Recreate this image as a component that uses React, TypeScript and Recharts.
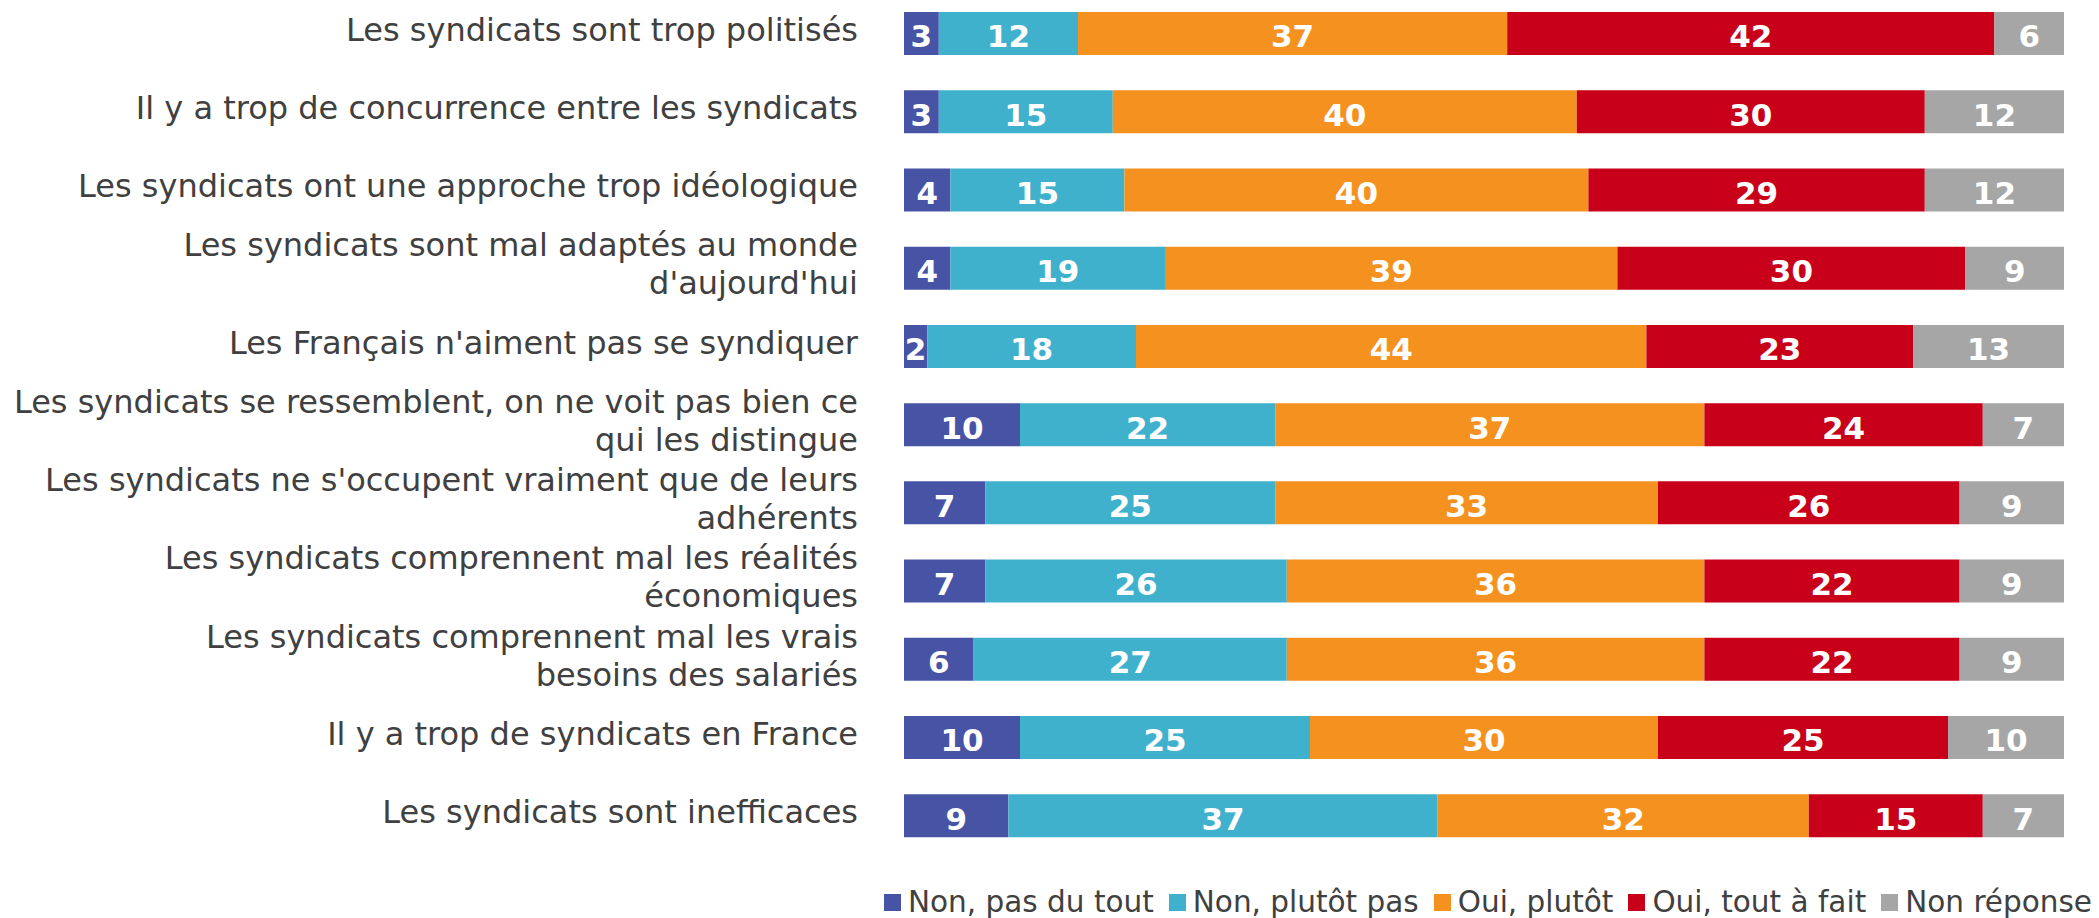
import React from 'react';
import { BarChart, Bar, XAxis, YAxis, Legend, LabelList } from 'recharts';

const categories = [
  'Les syndicats sont trop politisés',
  'Il y a trop de concurrence entre les syndicats',
  'Les syndicats ont une approche trop idéologique',
  "Les syndicats sont mal adaptés au monde\nd'aujourd'hui",
  "Les Français n'aiment pas se syndiquer",
  'Les syndicats se ressemblent, on ne voit pas bien ce\nqui les distingue',
  "Les syndicats ne s'occupent vraiment que de leurs\nadhérents",
  'Les syndicats comprennent mal les réalités\néconomiques',
  'Les syndicats comprennent mal les vrais\nbesoins des salariés',
  'Il y a trop de syndicats en France',
  'Les syndicats sont inefficaces',
];

const nonPasDuTout = [3, 3, 4, 4, 2, 10, 7, 7, 6, 10, 9];
const nonPlutotPas = [12, 15, 15, 18.5, 18, 22, 25, 26, 27, 25, 37];
const ouiPlutot = [37, 40, 40, 39, 44, 37, 33, 36, 36, 30, 32];
const ouiToutAFait = [42, 30, 29, 30, 23, 24, 26, 22, 22, 25, 15];
const nonReponse = [6, 12, 12, 8.5, 13, 7, 9, 9, 9, 10, 7];

const seriesNames = ['Non, pas du tout', 'Non, plutôt pas', 'Oui, plutôt', 'Oui, tout à fait', 'Non réponse'];
const seriesColors = ['#4753A5', '#40B1CD', '#F5921F', '#C8001A', '#A6A6A6'];
const seriesValues = [nonPasDuTout, nonPlutotPas, ouiPlutot, ouiToutAFait, nonReponse];

const FONT = '"DejaVu Sans", Verdana, sans-serif';

const data = categories.map((name, i) => {
  const row: any = { name };
  seriesValues.forEach((vals, s) => {
    row['s' + s] = vals[i];
  });
  return row;
});

function CategoryTick(props: any) {
  const { x, y, payload } = props;
  const lines = String(payload.value).split('\n');
  return (
    <text x={x} y={y} textAnchor="end" fontSize={32} fill="#404040" fontFamily={FONT}>
      {lines.map((line, i) => (
        <tspan key={i} x={x} dy={i === 0 ? 7.7 - (lines.length - 1) * 19 : 38}>
          {line}
        </tspan>
      ))}
    </text>
  );
}

function BarValue(props: any) {
  const { x, y, width, height, value } = props;
  return (
    <text
      x={x + width / 2}
      y={y + height / 2}
      dy="0.45em"
      textAnchor="middle"
      fill="#ffffff"
      fontWeight="bold"
      fontSize={31}
      fontFamily={FONT}
    >
      {Math.round(value)}
    </text>
  );
}

function LegendRow(props: any) {
  // keep the series order, not alphabetical
  const items = [...(props.payload || [])].sort(
    (a: any, b: any) => seriesNames.indexOf(a.value) - seriesNames.indexOf(b.value)
  );
  return (
    <div
      style={{
        display: 'flex',
        alignItems: 'center',
        height: 30,
        paddingLeft: 884,
        fontFamily: FONT,
        fontSize: 29.5,
        color: '#404040',
        whiteSpace: 'nowrap',
      }}
    >
      {items.map((item: any, i: number) => (
        <div key={i} style={{ display: 'flex', alignItems: 'center', marginRight: 15, lineHeight: '30px' }}>
          <span style={{ width: 17, height: 17, background: item.color, marginRight: 7, display: 'inline-block' }} />
          {item.value}
        </div>
      ))}
    </div>
  );
}

export default function App() {
  return (
    <div style={{ position: 'absolute', top: -6, left: 0 }}>
      <BarChart
        width={2099}
        height={924}
        data={data}
        layout="vertical"
        margin={{ top: 0, right: 35, bottom: 33.5, left: 0 }}
      >
        <XAxis type="number" domain={[0, 100]} hide />
        <YAxis
          type="category"
          dataKey="name"
          width={904}
          axisLine={false}
          tickLine={false}
          tickSize={6}
          tickMargin={40}
          interval={0}
          tick={<CategoryTick />}
        />
        <Legend
          verticalAlign="bottom"
          itemSorter="dataKey"
          content={<LegendRow />}
          wrapperStyle={{ top: 893, bottom: 'auto', left: 0, width: 2099, margin: 0 }}
        />
        {seriesNames.map((name, s) => (
          <Bar
            key={name}
            dataKey={'s' + s}
            name={name}
            stackId="a"
            fill={seriesColors[s]}
            barSize={43}
            isAnimationActive={false}
          >
            <LabelList dataKey={'s' + s} content={<BarValue />} />
          </Bar>
        ))}
      </BarChart>
    </div>
  );
}
